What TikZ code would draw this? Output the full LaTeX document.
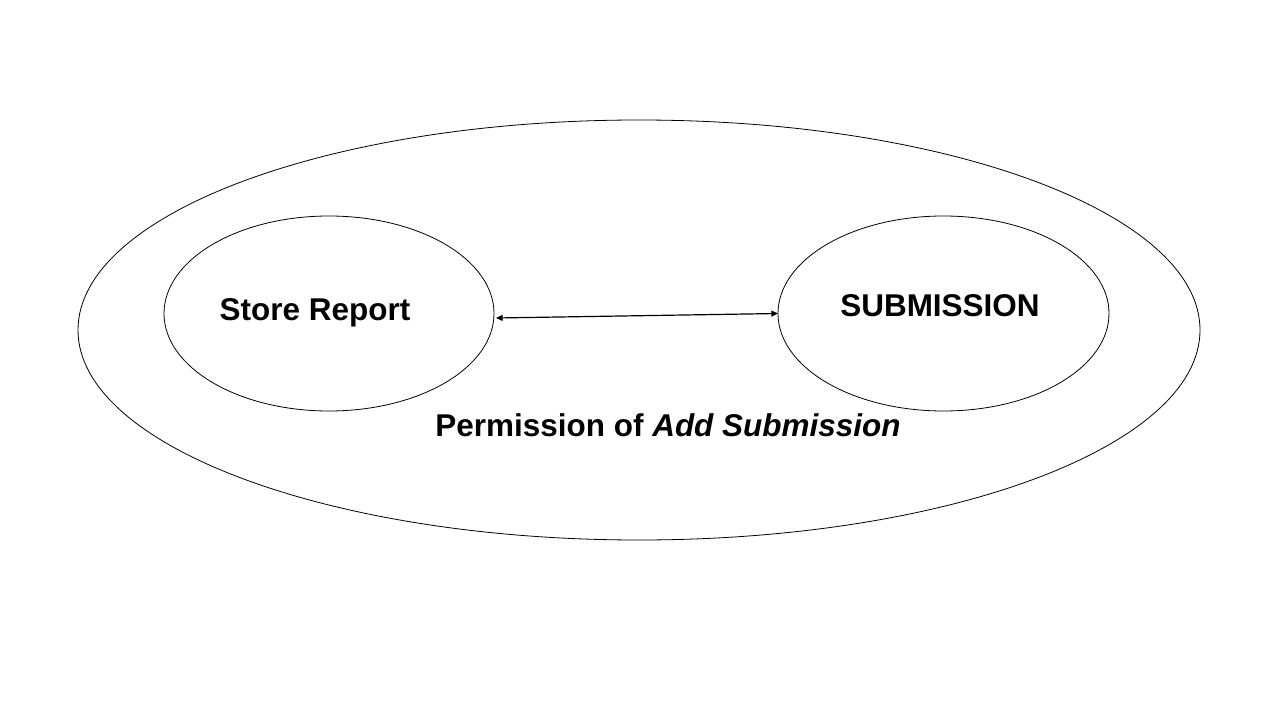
\documentclass[tikz,border=0pt]{standalone}
\usepackage{fontspec}
\setmainfont{Liberation Sans}
\usetikzlibrary{shapes.geometric,arrows.meta}
\begin{document}
\begin{tikzpicture}[x=0.75pt,y=-0.75pt,
  oval/.style={draw=black,line width=0.6pt},
  lbl/.style={font=\fontsize{23.6}{28}\selectfont\bfseries,inner sep=0pt},
  link/.style={draw=black,line width=0.9pt,{Triangle[length=5pt,width=4.5pt]}-{Triangle[length=5pt,width=4.5pt]}}]
\useasboundingbox (0,0) rectangle (1280,720);
\draw[oval] (639,330) ellipse [x radius=561,y radius=210];
\node[oval,ellipse,minimum width=330*0.75pt,minimum height=195*0.75pt,inner sep=0pt] (store) at (329,313.5) {};
\node[oval,ellipse,minimum width=331*0.75pt,minimum height=195*0.75pt,inner sep=0pt] (sub) at (943.5,313.5) {};
\node[lbl] (storet) at (315,313) {Store Report};
\node[lbl] (subt) at (940,306) {SUBMISSION};
\node[lbl] (perm) at (668,425) {Permission of \textit{Add Submission}};
\coordinate (a) at (496,318);
\coordinate (b) at (778,313.5);
\draw[link] (a) -- (b);
\end{tikzpicture}
\end{document}
